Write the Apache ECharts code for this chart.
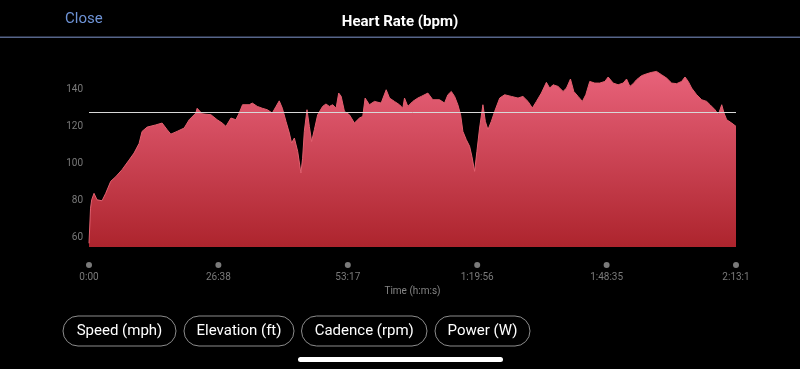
<!DOCTYPE html>
<html>
<head>
<meta charset="utf-8">
<script src="https://cdn.jsdelivr.net/npm/echarts@6/dist/echarts.min.js"></script>
<style>
  html, body { margin: 0; padding: 0; background: #000; }
  #chart { width: 800px; height: 369px; }
</style>
</head>
<body>
<div id="chart"></div>
<script>
// ---- data ----
const timeSec = [0, 19, 33, 62, 99, 161, 206, 268, 330, 408, 494, 556, 618, 655, 717, 824, 902, 964, 1009, 1087,
  1174, 1236, 1318, 1334, 1396, 1504, 1581, 1643, 1689, 1751, 1812, 1853, 1894, 1915, 1977, 2014, 2076, 2137, 2199, 2261,
  2307, 2347, 2385, 2430, 2471, 2499, 2533, 2574, 2614, 2635, 2656, 2689, 2718, 2746, 2780, 2821, 2882, 2923, 2965, 3006,
  3048, 3080, 3110, 3151, 3212, 3274, 3336, 3377, 3406, 3459, 3521, 3604, 3666, 3707, 3768, 3830, 3871, 3892, 3933, 3994,
  4056, 4098, 4180, 4241, 4324, 4386, 4427, 4469, 4510, 4550, 4584, 4612, 4654, 4695, 4723, 4757, 4785, 4818, 4859, 4889,
  4921, 4963, 5004, 5066, 5127, 5210, 5292, 5353, 5415, 5469, 5519, 5580, 5642, 5683, 5724, 5786, 5848, 5890, 5939, 5980,
  6033, 6086, 6128, 6177, 6239, 6301, 6363, 6404, 6466, 6527, 6589, 6631, 6672, 6713, 6754, 6816, 6878, 6940, 7001, 7063,
  7125, 7187, 7249, 7310, 7352, 7392, 7434, 7496, 7558, 7619, 7661, 7722, 7763, 7805, 7833, 7866, 7928, 7981];
const heartRate = [57, 76, 80.5, 84, 80.5, 80, 84, 90.5, 93, 96.8, 102, 105.8, 111, 117.5, 119.8, 121, 122, 118.4, 116, 117.5,
  119.3, 123.8, 127.4, 130, 127, 126.5, 123.8, 122, 120.2, 124.7, 123.8, 127.4, 131.9, 132.3, 131.9, 132.8, 131, 130, 129.2, 127.4,
  131, 134, 130, 122.9, 116.6, 111.2, 113.9, 106.7, 95, 103, 117.5, 129.2, 120.2, 112, 118.4, 126.5, 131, 132.3, 131, 131.9,
  130, 138.2, 136.5, 128.3, 126.5, 122, 124.7, 125.6, 135.5, 131.9, 133.7, 132.8, 140, 135.5, 133.7, 131.9, 130, 135.5, 131, 133.7,
  135.5, 136.4, 138.2, 134.6, 134.6, 132.8, 137.3, 139.1, 136.4, 131.9, 126.5, 117.5, 113, 109.4, 104, 95.9, 106.7, 119.3, 131.9, 122.9,
  118.4, 122.9, 128.3, 135.5, 137.3, 136.4, 135.5, 136.4, 133.7, 130.1, 133.7, 138.2, 144, 140.9, 142.7, 141.8, 139.1, 140.9, 145.8, 139.1,
  136.4, 133.7, 137.3, 144.5, 143.6, 143.6, 144.5, 146.9, 143.6, 142.7, 143.6, 145.8, 141.8, 143.3, 145.4, 147.6, 148.6, 149.4, 149.9, 148.1,
  146.3, 143.6, 143.3, 144.5, 146.9, 144.5, 140.9, 137.3, 134.6, 133.7, 131.9, 129.2, 126.5, 131.9, 127.4, 123.8, 122, 120.2];
const averageHr = 128;
const xTickLabels = ['0:00', '26:38', '53:17', '1:19:56', '1:48:35', '2:13:1'];
const yTickValues = [60, 80, 100, 120, 140];
const buttonLabels = ['Speed (mph)', 'Elevation (ft)', 'Cadence (rpm)', 'Power (W)'];
const titleText = 'Heart Rate (bpm)';
const closeText = 'Close';
const xAxisTitle = 'Time (h:m:s)';

// ---- chart ----
const chart = echarts.init(document.getElementById('chart'), null, { renderer: 'canvas', width: 800, height: 369 });
const totalSec = timeSec[timeSec.length - 1];
const FONT = 'Roboto, "Noto Sans", sans-serif';

const buttonBoxes = [[63, 176], [184, 294], [301.5, 427], [435, 530]];
const buttonGraphics = buttonLabels.map((lbl, i) => {
  const [x0, x1] = buttonBoxes[i];
  return {
    type: 'group',
    children: [
      { type: 'rect', shape: { x: x0, y: 316, width: x1 - x0, height: 30, r: 15 },
        style: { fill: 'transparent', stroke: '#8c8c8c', lineWidth: 1 } },
      { type: 'text', x: (x0 + x1) / 2, y: 331,
        style: { text: lbl, fill: '#ffffff', font: '15px ' + FONT, align: 'center', verticalAlign: 'middle' } }
    ]
  };
});

chart.setOption({
  backgroundColor: '#000000',
  animation: false,
  grid: { left: 89, right: 64, top: 62, bottom: 122 },
  xAxis: {
    type: 'value',
    min: 0,
    max: totalSec,
    interval: totalSec / 5,
    axisLine: { show: false },
    axisTick: { show: false },
    splitLine: { show: false },
    name: xAxisTitle,
    nameLocation: 'middle',
    nameGap: 39,
    nameTextStyle: { color: '#858585', fontSize: 10, fontFamily: FONT },
    axisLabel: {
      showMinLabel: true,
      showMaxLabel: true,
      hideOverlap: false,
      margin: 14,
      formatter: (v, idx) => '{dot|}\n{t|' + xTickLabels[idx] + '}',
      rich: {
        dot: { width: 6, height: 6, borderRadius: 3, backgroundColor: '#7a7a7a', lineHeight: 8 },
        t: { color: '#7a7a7a', fontSize: 10, fontFamily: FONT, lineHeight: 16 }
      }
    }
  },
  yAxis: {
    type: 'value',
    min: 55,
    max: 155,
    axisLine: { show: false },
    axisTick: { show: false },
    splitLine: { show: false },
    axisLabel: {
      customValues: yTickValues,
      color: '#7a7a7a',
      fontSize: 10,
      fontFamily: FONT,
      margin: 6
    }
  },
  title: {
    text: titleText,
    left: 'center',
    top: 10,
    textStyle: { color: '#ffffff', fontSize: 15, fontWeight: 'bold', fontFamily: FONT }
  },
  graphic: [
    { type: 'text', x: 65, y: 19, style: { text: closeText, fill: '#6e93d6', font: '15px ' + FONT, verticalAlign: 'middle' } },
    { type: 'rect', shape: { x: 0, y: 36.5, width: 800, height: 1.5 }, style: { fill: '#56658a' } },
    ...buttonGraphics,
    { type: 'rect', shape: { x: 298, y: 357, width: 205, height: 5, r: 2.5 }, style: { fill: '#ffffff' } }
  ],
  series: [{
    type: 'line',
    data: timeSec.map((t, i) => [t, heartRate[i]]),
    showSymbol: false,
    symbol: 'none',
    lineStyle: { width: 1, color: '#e3606f' },
    areaStyle: {
      origin: 'start',
      opacity: 1,
      color: new echarts.graphic.LinearGradient(0, 0, 0, 1, [
        { offset: 0, color: '#e8627a' },
        { offset: 1, color: '#ad242d' }
      ])
    },
    markLine: {
      silent: true,
      symbol: 'none',
      label: { show: false },
      lineStyle: { color: '#d8d8d8', width: 1, type: 'solid' },
      data: [{ yAxis: averageHr }]
    }
  }]
});
</script>
</body>
</html>
